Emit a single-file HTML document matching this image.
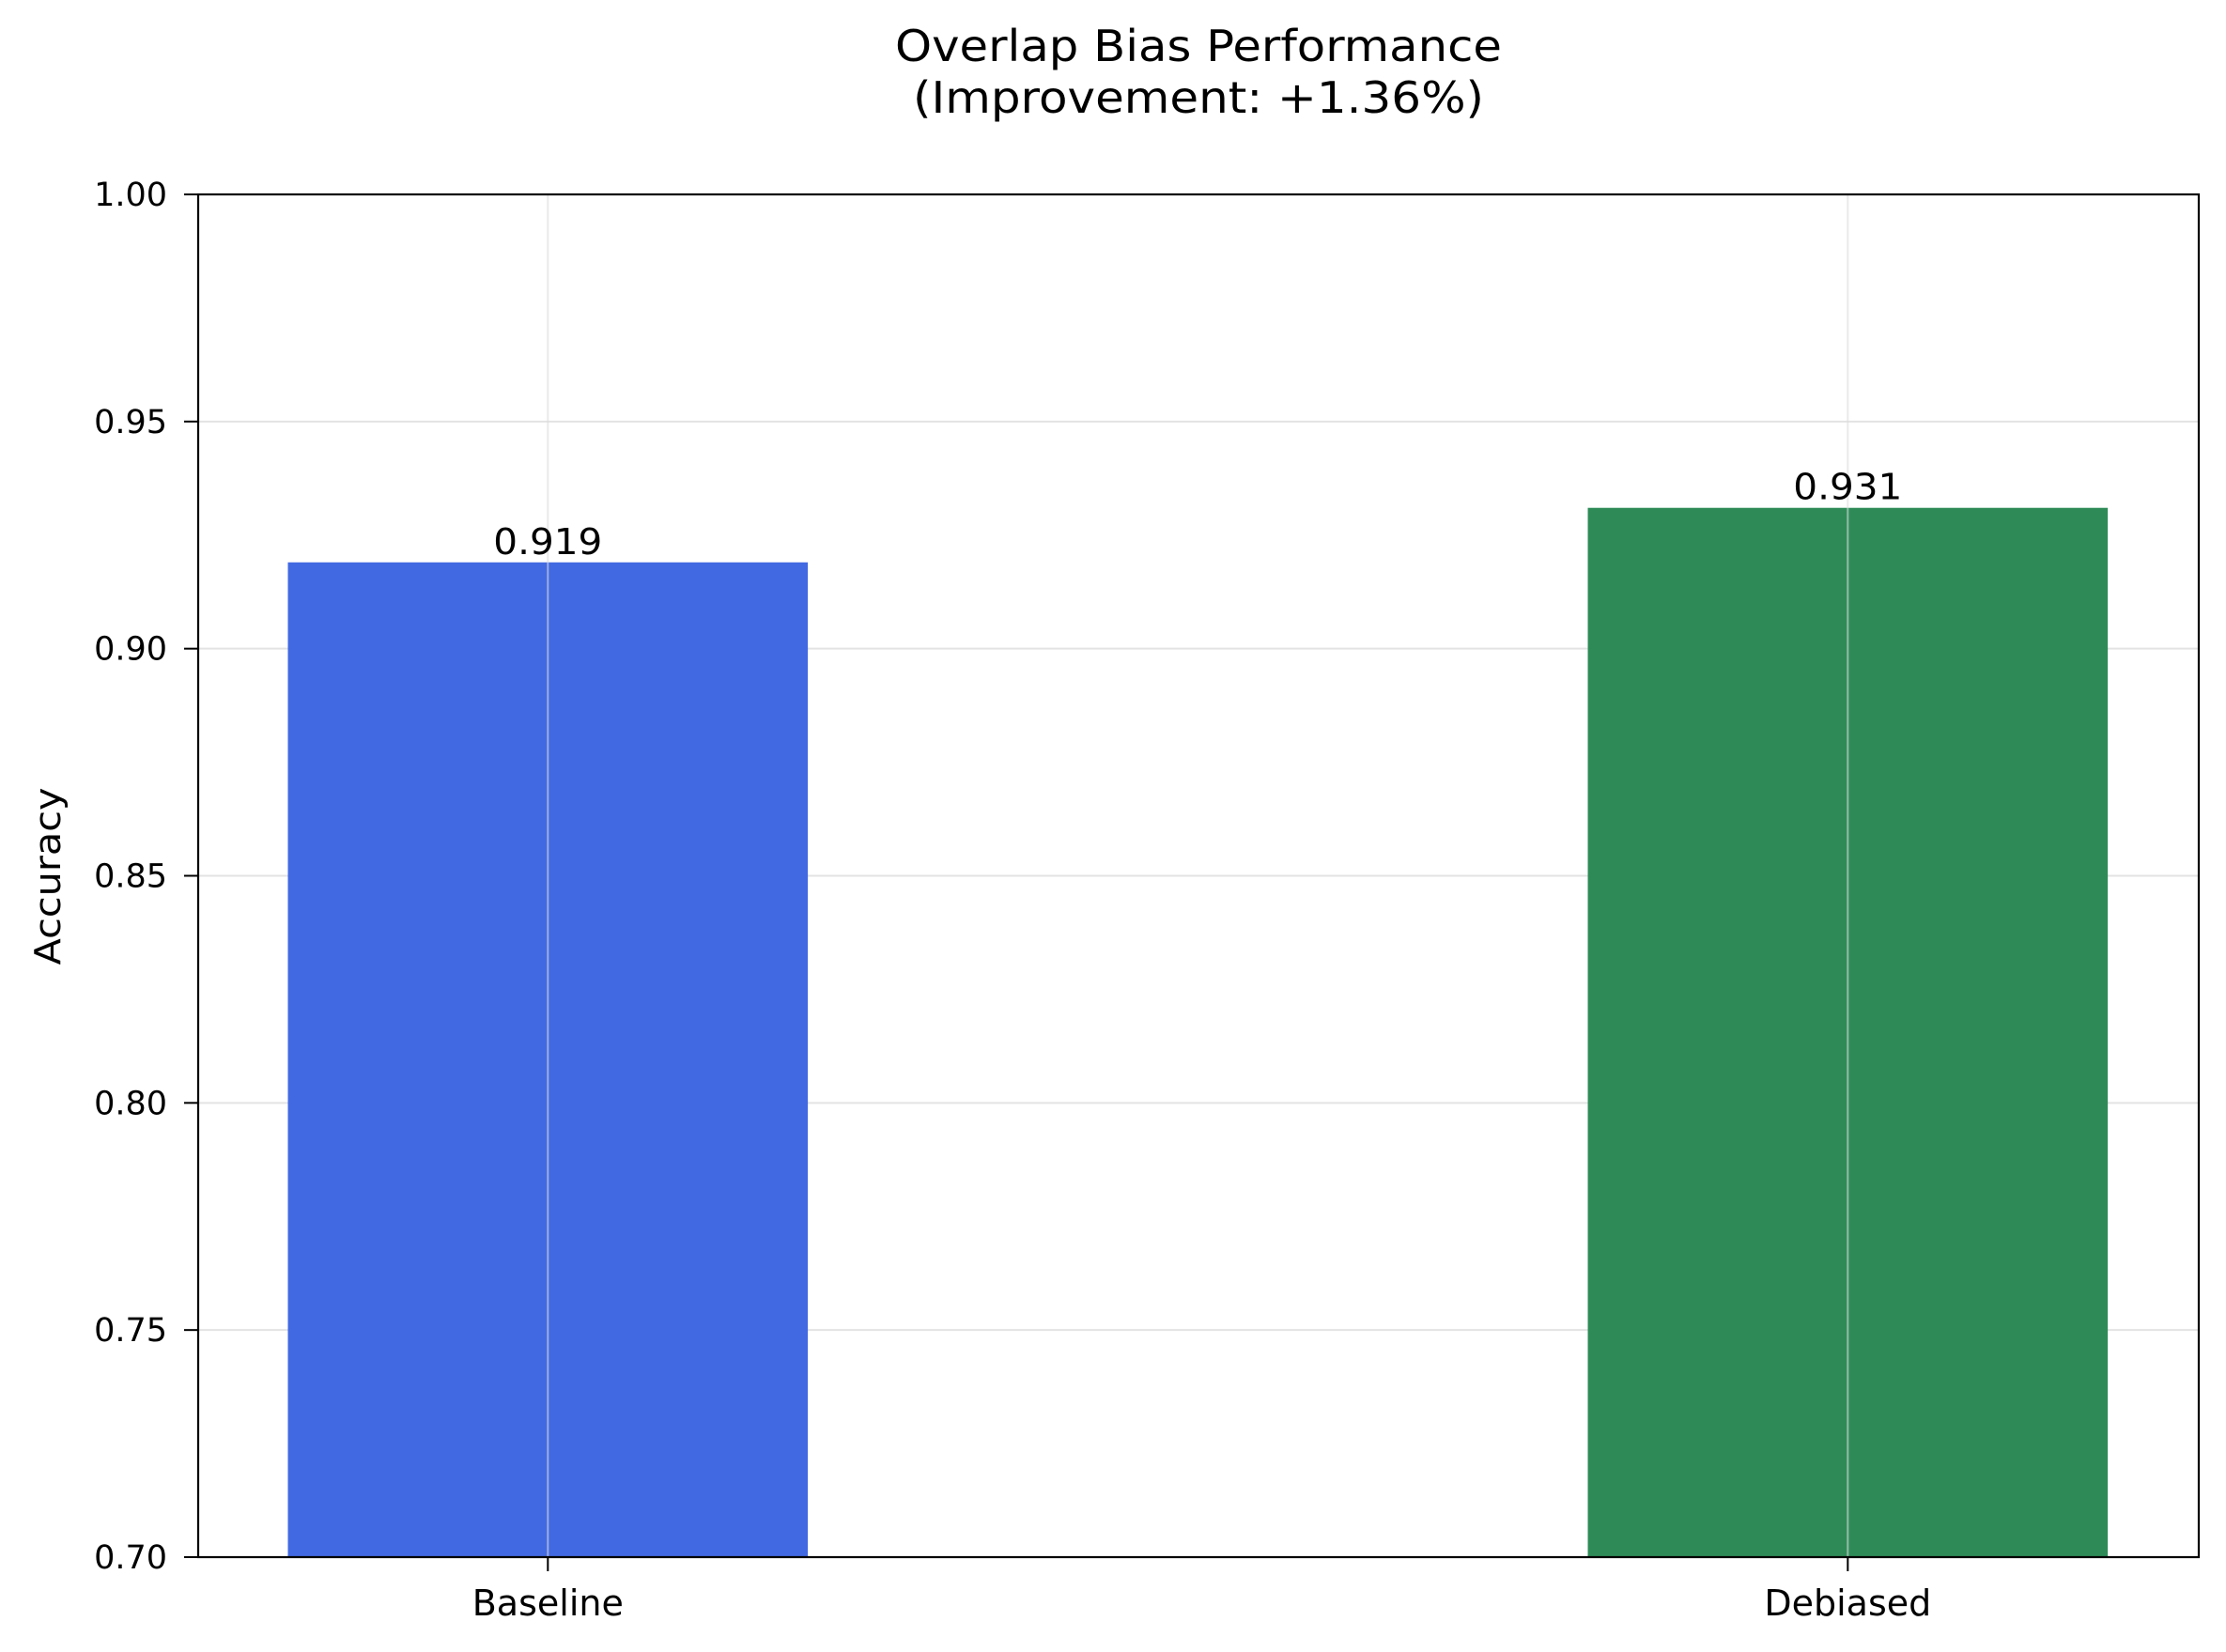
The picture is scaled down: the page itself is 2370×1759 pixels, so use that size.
<!DOCTYPE html>
<html><head><meta charset="utf-8"><style>
html,body{margin:0;padding:0;background:#fff;}
svg{display:block;font-family:"DejaVu Sans","Liberation Sans",sans-serif;}
</style></head><body>
<svg id="chart" width="2370" height="1759" viewBox="0 0 2370 1759" xmlns="http://www.w3.org/2000/svg">
<rect width="2370" height="1759" fill="#fff"/>
<text x="1276" y="65" font-size="46" text-anchor="middle" textLength="646" lengthAdjust="spacingAndGlyphs">Overlap Bias Performance</text>
<text x="1276" y="120" font-size="46" text-anchor="middle" textLength="608" lengthAdjust="spacingAndGlyphs">(Improvement: +1.36%)</text>
<text x="0" y="0" font-size="38" text-anchor="middle" transform="translate(64,933) rotate(-90)" textLength="189" lengthAdjust="spacingAndGlyphs">Accuracy</text>
<g id="grid"></g><g id="bars"></g><g id="grid2"></g>
<rect x="211" y="207" width="2130" height="1451" fill="none" stroke="#000" stroke-width="2.2"/>
<g id="axes"></g>
</svg>
<script>
const categories = ["Baseline", "Debiased"];
const values = [0.919, 0.931];
const valueLabels = ["0.919", "0.931"];
const yTicks = [0.70, 0.75, 0.80, 0.85, 0.90, 0.95, 1.00];
const yTickLabels = ["0.70", "0.75", "0.80", "0.85", "0.90", "0.95", "1.00"];
const colors = ["#4169e1", "#2e8b57"];

const NS = "http://www.w3.org/2000/svg";
const L = 211, R = 2341, T = 207, B = 1658;
const yMin = 0.70, yMax = 1.00;
const xMin = -0.269, xMax = 1.27;
const yS = v => B - (v - yMin) / (yMax - yMin) * (B - T);
const xS = v => L + (v - xMin) / (xMax - xMin) * (R - L);
function mk(tag, attrs, parent) {
  const e = document.createElementNS(NS, tag);
  for (const k in attrs) e.setAttribute(k, attrs[k]);
  document.getElementById(parent).appendChild(e);
  return e;
}
yTicks.forEach((t, i) => {
  const y = yS(t);
  const g = mk("line", {x1: L, x2: R, y1: y, y2: y, stroke: "#e3e3e3", "stroke-width": 2}, "grid");
  
  
  const tk = mk("line", {x1: L - 15, x2: L, y1: y, y2: y, stroke: "#000", "stroke-width": 2}, "axes");
  
  
  const tx = mk("text", {x: L - 33, y: y + 12, "font-size": 35, "text-anchor": "end"}, "axes");
  tx.textContent = yTickLabels[i];
  
  
});
const bw = 0.4;
categories.forEach((c, i) => {
  const x0 = xS(i - bw / 2), x1 = xS(i + bw / 2), y = yS(values[i]);
  const r = mk("rect", {x: x0, y: y, width: x1 - x0, height: B - y, fill: colors[i]}, "bars");
  
  
  const cx = xS(i);
  const g = mk("line", {x1: cx, x2: cx, y1: T, y2: B, stroke: "#dcdcdc", "stroke-width": 2, "stroke-opacity": 0.6}, "grid2");
  
  
  const v = mk("text", {x: cx, y: y - 9, "font-size": 38, "text-anchor": "middle", textLength: 116, lengthAdjust: "spacingAndGlyphs"}, "axes");
  v.textContent = valueLabels[i];
  
  
  const tk = mk("line", {x1: cx, x2: cx, y1: B, y2: B + 15, stroke: "#000", "stroke-width": 2}, "axes");
  
  
  const tx = mk("text", {x: cx, y: B + 62, "font-size": 38, "text-anchor": "middle"}, "axes");
  tx.textContent = c;
  
  
});
</script>
</body></html>
